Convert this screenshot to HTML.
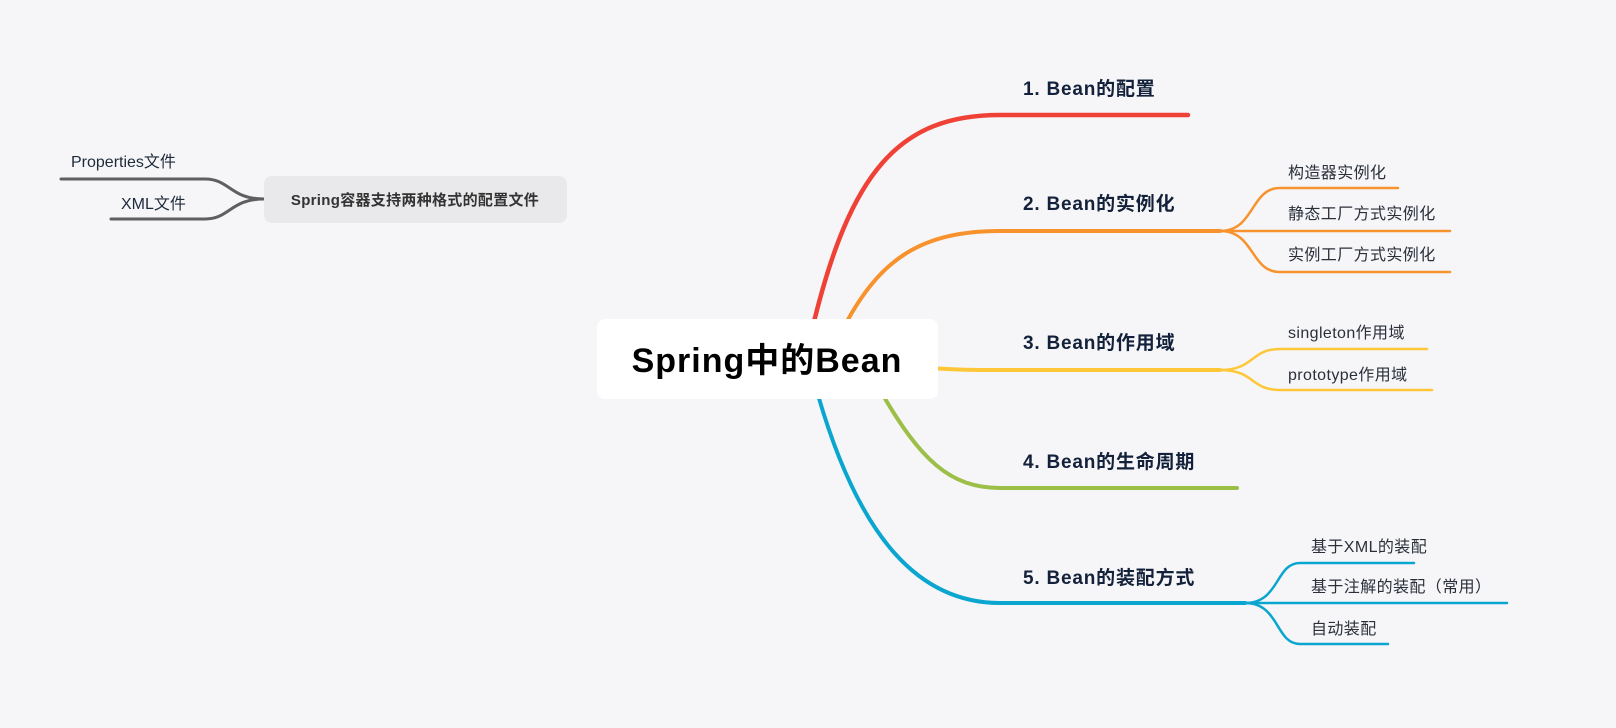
<!DOCTYPE html>
<html><head><meta charset="utf-8"><style>
html,body{margin:0;padding:0;background:#f6f6f8;}
svg{display:block;}
text{font-family:"Liberation Sans","Noto Sans CJK SC",sans-serif;}
</style></head><body>
<svg width="1616" height="728" viewBox="0 0 1616 728" xmlns="http://www.w3.org/2000/svg">
<rect width="1616" height="728" fill="#f6f6f8"/>
<g fill="none" stroke-linecap="round">
<path d="M812 330 C850 170 900 115 1000 115 L1188 115" stroke="#ef4136" stroke-width="4.5"/>
<path d="M845 325 C880 260 920 231 1000 231 L1220 231" stroke="#f7922d" stroke-width="4"/>
<path d="M930 368 C960 370 975 370 1000 370 L1220 370" stroke="#fdc738" stroke-width="4"/>
<path d="M880 390 C920 460 950 488 1000 488 L1237 488" stroke="#9cbf48" stroke-width="4"/>
<path d="M818 395 C860 540 920 603 1000 603 L1245 603" stroke="#0aa6cf" stroke-width="4"/>
<g stroke="#f7922d" stroke-width="2.5">
<path d="M1220 231 C1255 231 1250 188 1280 188 L1398 188"/>
<path d="M1220 231 L1450 231"/>
<path d="M1220 231 C1255 231 1250 272 1280 272 L1450 272"/>
</g>
<g stroke="#fdc738" stroke-width="2.5">
<path d="M1220 370 C1255 370 1250 349 1280 349 L1427 349"/>
<path d="M1220 370 C1255 370 1250 390 1280 390 L1432 390"/>
</g>
<g stroke="#0aa6cf" stroke-width="2.5">
<path d="M1245 603 C1280 603 1275 563 1300 563 L1414 563"/>
<path d="M1245 603 L1507 603"/>
<path d="M1245 603 C1280 603 1275 644 1300 644 L1388 644"/>
</g>
<g stroke="#5f5f60" stroke-width="3">
<path d="M264 199 C230 199 230 179 205 179 L61 179"/>
<path d="M264 199 C230 199 230 219 205 219 L111 219"/>
</g>
</g>
<rect x="597" y="319" width="341" height="80" rx="8" fill="#ffffff"/>
<text x="767" y="372" text-anchor="middle" font-size="34" font-weight="bold" fill="#000" letter-spacing="1">Spring中的Bean</text>
<rect x="264" y="176" width="303" height="47" rx="8" fill="#e9e9eb"/>
<text x="415" y="205" text-anchor="middle" font-size="15" font-weight="bold" fill="#333" letter-spacing="0.3">Spring容器支持两种格式的配置文件</text>
<g font-size="16" fill="#1e2a3a">
<text x="71" y="167">Properties文件</text>
<text x="121" y="209">XML文件</text>
</g>
<g font-size="19" font-weight="bold" fill="#14213a" letter-spacing="0.8">
<text x="1023" y="95">1. Bean的配置</text>
<text x="1023" y="210">2. Bean的实例化</text>
<text x="1023" y="349">3. Bean的作用域</text>
<text x="1023" y="468">4. Bean的生命周期</text>
<text x="1023" y="584">5. Bean的装配方式</text>
</g>
<g font-size="16" fill="#2a2f3a" letter-spacing="0.4">
<text x="1288" y="178">构造器实例化</text>
<text x="1288" y="219">静态工厂方式实例化</text>
<text x="1288" y="260">实例工厂方式实例化</text>
<text x="1288" y="338">singleton作用域</text>
<text x="1288" y="380">prototype作用域</text>
<text x="1311" y="552">基于XML的装配</text>
<text x="1311" y="592">基于注解的装配（常用）</text>
<text x="1311" y="634">自动装配</text>
</g>
</svg>
</body></html>
